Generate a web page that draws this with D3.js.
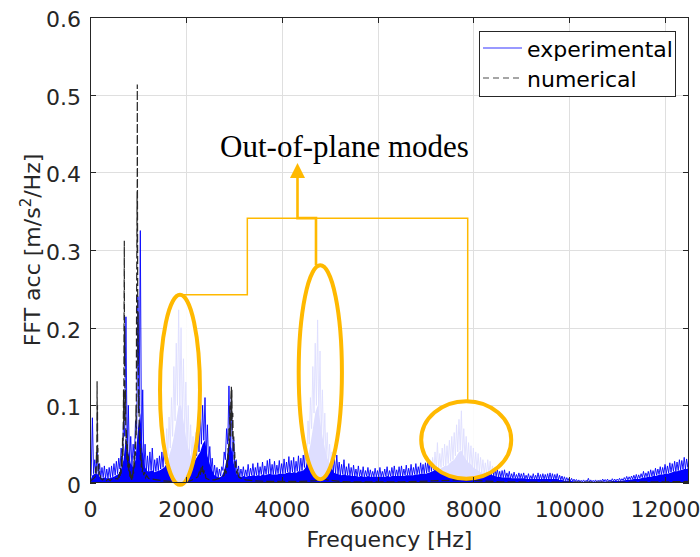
<!DOCTYPE html>
<html>
<head>
<meta charset="utf-8">
<script src="https://cdn.jsdelivr.net/npm/d3@7/dist/d3.min.js"></script>
<style>
  body { margin: 0; background: #fff; }
  svg { display: block; }
</style>
</head>
<body>
<svg id="chart" width="700" height="557"></svg>
<script>
// ---- axis ticks ----
const xTickValues = [0, 2000, 4000, 6000, 8000, 10000, 12000];
const yTickValues = [0, 0.1, 0.2, 0.3, 0.4, 0.5, 0.6];

// ---- experimental spectrum, 50 Hz bins from 0 to 12500 Hz ----
// expPeak: spike tips in each bin, expFloor: solid noise floor in each bin [m/s^2/Hz]
const expPeak = [
  0.006, 0.084, 0.03, 0.04, 0.025, 0.02, 0.022, 0.018, 0.02, 0.022,
  0.025, 0.028, 0.032, 0.045, 0.08, 0.214, 0.1, 0.06, 0.05, 0.08,
  0.24, 0.325, 0.12, 0.05, 0.035, 0.04, 0.045, 0.03, 0.032, 0.035,
  0.04, 0.05, 0.07, 0.085, 0.11, 0.15, 0.18, 0.223, 0.2, 0.16,
  0.13, 0.1, 0.075, 0.06, 0.065, 0.075, 0.088, 0.1, 0.11, 0.075,
  0.047, 0.032, 0.023, 0.02, 0.018, 0.021, 0.04, 0.07, 0.125, 0.11,
  0.055, 0.03, 0.022, 0.018, 0.021, 0.017, 0.024, 0.019, 0.025, 0.02,
  0.026, 0.021, 0.027, 0.022, 0.029, 0.031, 0.024, 0.028, 0.023, 0.029,
  0.025, 0.031, 0.027, 0.034, 0.029, 0.033, 0.028, 0.035, 0.032, 0.036,
  0.05, 0.08, 0.11, 0.15, 0.18, 0.21, 0.17, 0.12, 0.09, 0.065,
  0.05, 0.04, 0.032, 0.036, 0.027, 0.024, 0.03, 0.021, 0.025, 0.02,
  0.023, 0.018, 0.022, 0.017, 0.021, 0.016, 0.02, 0.017, 0.015, 0.019,
  0.016, 0.02, 0.015, 0.018, 0.021, 0.016, 0.02, 0.022, 0.017, 0.021,
  0.022, 0.018, 0.023, 0.019, 0.024, 0.02, 0.025, 0.021, 0.026, 0.024,
  0.026, 0.028, 0.03, 0.033, 0.04, 0.052, 0.038, 0.045, 0.05, 0.048,
  0.055, 0.06, 0.065, 0.075, 0.082, 0.093, 0.07, 0.06, 0.052, 0.048,
  0.045, 0.04, 0.038, 0.033, 0.03, 0.026, 0.03, 0.028, 0.022, 0.02,
  0.018, 0.015, 0.016, 0.017, 0.013, 0.015, 0.012, 0.014, 0.011, 0.013,
  0.012, 0.013, 0.01, 0.012, 0.0095, 0.012, 0.01, 0.013, 0.011, 0.012,
  0.011, 0.012, 0.013, 0.012, 0.011, 0.012, 0.01, 0.009, 0.008, 0.007,
  0.0065, 0.006, 0.005, 0.0045, 0.004, 0.0035, 0.004, 0.0035, 0.006, 0.004,
  0.0035, 0.004, 0.0035, 0.004, 0.005, 0.0045, 0.005, 0.004, 0.0055, 0.005,
  0.005, 0.006, 0.0055, 0.007, 0.0085, 0.008, 0.009, 0.01, 0.011, 0.0105,
  0.012, 0.015, 0.013, 0.015, 0.017, 0.016, 0.019, 0.018, 0.021, 0.02,
  0.024, 0.022, 0.026, 0.025, 0.028, 0.027, 0.03, 0.029, 0.033, 0.031, 0.035
];
const expFloor = [
  0.002, 0.01, 0.012, 0.012, 0.008, 0.006, 0.007, 0.006, 0.006, 0.007,
  0.008, 0.01, 0.012, 0.018, 0.03, 0.06, 0.04, 0.025, 0.02, 0.03,
  0.07, 0.09, 0.04, 0.02, 0.015, 0.015, 0.016, 0.014, 0.015, 0.016,
  0.018, 0.02, 0.025, 0.035, 0.045, 0.06, 0.08, 0.1, 0.1, 0.08,
  0.06, 0.045, 0.035, 0.03, 0.03, 0.035, 0.04, 0.05, 0.055, 0.035,
  0.024, 0.016, 0.01, 0.008, 0.007, 0.009, 0.016, 0.03, 0.05, 0.045,
  0.025, 0.012, 0.009, 0.008, 0.009, 0.008, 0.009, 0.009, 0.01, 0.009,
  0.01, 0.009, 0.011, 0.01, 0.011, 0.012, 0.011, 0.011, 0.011, 0.012,
  0.012, 0.012, 0.013, 0.014, 0.013, 0.014, 0.013, 0.015, 0.015, 0.016,
  0.02, 0.035, 0.05, 0.07, 0.09, 0.1, 0.08, 0.06, 0.045, 0.032,
  0.025, 0.018, 0.013, 0.012, 0.011, 0.01, 0.011, 0.01, 0.01, 0.009,
  0.009, 0.009, 0.008, 0.009, 0.008, 0.008, 0.009, 0.008, 0.008, 0.008,
  0.008, 0.008, 0.008, 0.008, 0.009, 0.008, 0.009, 0.009, 0.009, 0.009,
  0.009, 0.009, 0.01, 0.01, 0.01, 0.01, 0.011, 0.011, 0.012, 0.012,
  0.012, 0.013, 0.014, 0.015, 0.017, 0.018, 0.018, 0.02, 0.022, 0.022,
  0.025, 0.028, 0.03, 0.035, 0.04, 0.042, 0.035, 0.03, 0.026, 0.024,
  0.02, 0.018, 0.016, 0.014, 0.013, 0.012, 0.011, 0.011, 0.01, 0.009,
  0.008, 0.008, 0.007, 0.007, 0.007, 0.007, 0.006, 0.006, 0.006, 0.006,
  0.006, 0.006, 0.005, 0.005, 0.005, 0.005, 0.005, 0.005, 0.005, 0.005,
  0.005, 0.005, 0.005, 0.005, 0.005, 0.005, 0.004, 0.004, 0.003, 0.003,
  0.003, 0.0025, 0.002, 0.002, 0.002, 0.0015, 0.0015, 0.0015, 0.002, 0.0015,
  0.0015, 0.0015, 0.0015, 0.002, 0.002, 0.002, 0.002, 0.002, 0.0025, 0.0025,
  0.0025, 0.003, 0.003, 0.0035, 0.004, 0.004, 0.0045, 0.005, 0.005, 0.005,
  0.006, 0.007, 0.007, 0.008, 0.008, 0.009, 0.009, 0.01, 0.011, 0.011,
  0.012, 0.012, 0.013, 0.014, 0.015, 0.015, 0.016, 0.017, 0.018, 0.018, 0.02
];
const expBinWidth = 50;

// ---- numerical spectrum (frequency [Hz], amplitude [m/s^2/Hz]) ----
const numFreq = [
  0, 40, 80, 110, 120, 128, 135, 140, 145, 148, 152, 156, 160, 165, 170, 180,
  190, 200, 220, 260, 300, 340, 380, 420, 460, 500, 540, 580,
  600, 610, 620, 630, 640, 650, 660, 670, 680, 690, 700, 705, 710, 716,
  720, 725, 730, 740, 750, 760, 770, 780, 790, 800, 810, 820, 830, 840,
  850, 860, 870, 880, 890, 900, 910, 920, 930, 940, 950, 960, 965, 970,
  978, 983, 985, 987, 990, 995, 1000, 1005, 1010, 1020, 1030, 1040, 1050,
  1060, 1070, 1080, 1090, 1100, 1120, 1140, 1160, 1180, 1220, 1300, 1400,
  1500, 1700, 1900, 2100, 2200, 2250, 2280, 2300, 2320, 2340, 2350, 2370,
  2390, 2420, 2500, 2600, 2700, 2760, 2800, 2820, 2840, 2860, 2870, 2880,
  2890, 2900, 2910, 2920, 2930, 2940, 2950, 2955, 2960, 2970, 2980, 2990,
  3000, 3010, 3020, 3030, 3040, 3060, 3080, 3100, 3150, 3250, 3400, 3700,
  4000, 4400, 4700, 4850, 4950, 5200, 5500, 6500, 7300, 7700, 8100, 8600,
  10000, 12000, 12500
];
const numValue = [
  0.002, 0.004, 0.006, 0.008, 0.02, 0.012, 0.04, 0.025, 0.08, 0.131, 0.06, 0.1, 0.03, 0.045, 0.015, 0.025,
  0.01, 0.015, 0.006, 0.004, 0.006, 0.003, 0.005, 0.003, 0.005, 0.004, 0.006, 0.005,
  0.01, 0.006, 0.014, 0.008, 0.02, 0.012, 0.035, 0.02, 0.06, 0.035, 0.12, 0.07, 0.2, 0.312,
  0.15, 0.2, 0.08, 0.12, 0.05, 0.07, 0.03, 0.05, 0.02, 0.035, 0.015, 0.025, 0.008, 0.015,
  0.004, 0.01, 0.002, 0.012, 0.006, 0.02, 0.012, 0.035, 0.02, 0.05, 0.035, 0.1, 0.06, 0.2,
  0.3, 0.375, 0.3, 0.513, 0.38, 0.25, 0.15, 0.22, 0.09, 0.12, 0.05, 0.07, 0.03,
  0.045, 0.02, 0.03, 0.014, 0.02, 0.01, 0.014, 0.007, 0.01, 0.006, 0.005, 0.004,
  0.003, 0.002, 0.002, 0.003, 0.006, 0.008, 0.014, 0.01, 0.02, 0.014, 0.022, 0.012,
  0.016, 0.006, 0.004, 0.004, 0.006, 0.008, 0.01, 0.02, 0.012, 0.03, 0.02, 0.045,
  0.03, 0.07, 0.045, 0.1, 0.06, 0.11, 0.124, 0.08, 0.12, 0.06, 0.09, 0.04,
  0.06, 0.03, 0.04, 0.02, 0.028, 0.012, 0.018, 0.008, 0.006, 0.004, 0.003, 0.002,
  0.002, 0.002, 0.003, 0.006, 0.004, 0.002, 0.0015, 0.0015, 0.003, 0.004, 0.003, 0.0015,
  0.001, 0.0015, 0.002
];

// ---- highlighted out-of-plane modes: centre [Hz, value] and half-axes [Hz, value] ----
const modeCenterFreq = [1878, 4806, 7851];
const modeCenterValue = [0.120, 0.1426, 0.0555];
const modeHalfFreq = [417, 451, 939];
const modeHalfValue = [0.1223, 0.1377, 0.0499];
// where each leader leaves its ellipse (Hz)
const modeLeaderFreq = [1878, 4716, 7882];
const bracketValue = 0.341;      // level of the common bracket
const bracketStepFreq = 3283;    // bend of the first leader
const arrowFreq = 4330;
const arrowTipValue = 0.412;
const annotationText = "Out-of-plane modes";
const annotationFreq = 5311;
const annotationValue = 0.4195;

const seriesNames = ["experimental", "numerical"];

// ---- layout ----
const svg = d3.select("#chart");
const plot = { left: 90, right: 689, top: 17, bottom: 483 };
const x = d3.scaleLinear().domain([0, 12500]).range([plot.left, plot.right]);
const y = d3.scaleLinear().domain([0, 0.6]).range([plot.bottom, plot.top]);
const axisColor = "#262626";
const sansFont = "'DejaVu Sans', sans-serif";
const orange = "#FFB900";

svg.append("defs").append("clipPath").attr("id", "plotClip")
  .append("rect")
  .attr("x", plot.left).attr("y", plot.top)
  .attr("width", plot.right - plot.left).attr("height", plot.bottom - plot.top);

// grid
const grid = svg.append("g").attr("stroke", "#dfdfdf").attr("stroke-width", 1);
grid.selectAll("line.gx").data(xTickValues.slice(1)).join("line")
  .attr("x1", d => Math.round(x(d)) + 0.5).attr("x2", d => Math.round(x(d)) + 0.5)
  .attr("y1", plot.top).attr("y2", plot.bottom);
grid.selectAll("line.gy").data(yTickValues.slice(1)).join("line")
  .attr("y1", d => Math.round(y(d)) + 0.5).attr("y2", d => Math.round(y(d)) + 0.5)
  .attr("x1", plot.left).attr("x2", plot.right);

const data = svg.append("g").attr("clip-path", "url(#plotClip)");

// experimental: solid floor plus spikes
const expFreq = d3.range(expPeak.length).map(i => i * expBinWidth);
const expPts = [];
expFreq.forEach((f, i) => {
  expPts.push([f - expBinWidth / 2, expFloor[i]]);
  expPts.push([f, expPeak[i]]);
});
expPts.push([expFreq[expFreq.length - 1] + expBinWidth / 2, expFloor[expFloor.length - 1]]);

data.append("path")
  .datum(expFreq.map((f, i) => [f, expFloor[i]]))
  .attr("fill", "#0000ff")
  .attr("d", d3.area().x(d => x(d[0])).y0(y(0)).y1(d => y(d[1])));

data.append("path")
  .datum(expPts)
  .attr("fill", "none")
  .attr("stroke", "#0000ff")
  .attr("stroke-width", 0.9)
  .attr("d", d3.line().x(d => x(d[0])).y(d => y(d[1])));

// numerical
data.append("path")
  .datum(numFreq.map((f, i) => [f, numValue[i]]))
  .attr("fill", "none")
  .attr("stroke", "#262626")
  .attr("stroke-width", 1.2)
  .attr("stroke-dasharray", "8,3")
  .attr("d", d3.line().x(d => x(d[0])).y(d => y(d[1])));

// ellipses around the out-of-plane modes
const ann = svg.append("g");
modeCenterFreq.forEach((f, i) => {
  ann.append("ellipse")
    .attr("cx", x(f))
    .attr("cy", y(modeCenterValue[i]))
    .attr("rx", x(modeHalfFreq[i]) - x(0))
    .attr("ry", y(0) - y(modeHalfValue[i]))
    .attr("fill", "#ffffff")
    .attr("fill-opacity", 0.87)
    .attr("stroke", orange)
    .attr("stroke-width", 4);
});

// leader lines to the common bracket
const top0 = modeCenterValue[0] + modeHalfValue[0];
const top1 = modeCenterValue[1] + modeHalfValue[1];
const top2 = modeCenterValue[2] + modeHalfValue[2];
const thin = d3.path();
thin.moveTo(x(modeLeaderFreq[0]), y(top0));
thin.lineTo(x(bracketStepFreq), y(top0));
thin.lineTo(x(bracketStepFreq), y(bracketValue));
thin.lineTo(x(modeLeaderFreq[2]), y(bracketValue));
thin.lineTo(x(modeLeaderFreq[2]), y(top2));
ann.append("path").attr("d", thin.toString())
  .attr("fill", "none").attr("stroke", orange).attr("stroke-width", 1.5);

const arrowBase = y(arrowTipValue) + 15;
const thick = d3.path();
thick.moveTo(x(modeLeaderFreq[1]), y(top1));
thick.lineTo(x(modeLeaderFreq[1]), y(bracketValue));
thick.lineTo(x(arrowFreq), y(bracketValue));
thick.lineTo(x(arrowFreq), arrowBase);
ann.append("path").attr("d", thick.toString())
  .attr("fill", "none").attr("stroke", orange).attr("stroke-width", 2.6);

const head = d3.path();
head.moveTo(x(arrowFreq), y(arrowTipValue));
head.lineTo(x(arrowFreq) + 7.5, arrowBase);
head.lineTo(x(arrowFreq) - 7.5, arrowBase);
head.closePath();
ann.append("path").attr("d", head.toString()).attr("fill", orange);

ann.append("text")
  .attr("x", x(annotationFreq)).attr("y", y(annotationValue))
  .attr("text-anchor", "middle")
  .attr("font-family", "'Liberation Serif', 'Times New Roman', serif")
  .attr("font-size", 31)
  .attr("fill", "#000")
  .text(annotationText);

// axes box and inward ticks
const ax = svg.append("g").attr("stroke", axisColor).attr("stroke-width", 1).attr("fill", "none");
ax.append("rect")
  .attr("x", plot.left + 0.5).attr("y", plot.top + 0.5)
  .attr("width", plot.right - plot.left - 1).attr("height", plot.bottom - plot.top - 1);
const tickLen = 6;
xTickValues.forEach(v => {
  const px = Math.round(x(v)) + 0.5;
  ax.append("line").attr("x1", px).attr("x2", px).attr("y1", plot.bottom).attr("y2", plot.bottom - tickLen);
  ax.append("line").attr("x1", px).attr("x2", px).attr("y1", plot.top).attr("y2", plot.top + tickLen);
});
yTickValues.forEach(v => {
  const py = Math.round(y(v)) + 0.5;
  ax.append("line").attr("y1", py).attr("y2", py).attr("x1", plot.left).attr("x2", plot.left + tickLen);
  ax.append("line").attr("y1", py).attr("y2", py).attr("x1", plot.right).attr("x2", plot.right - tickLen);
});

// tick labels via d3 axes (domain and tick lines hidden, the box draws them)
const xAxis = svg.append("g")
  .attr("transform", `translate(0,${plot.bottom})`)
  .call(d3.axisBottom(x).tickValues(xTickValues).tickFormat(d3.format("d")).tickSize(0).tickPadding(0));
const yAxis = svg.append("g")
  .attr("transform", `translate(${plot.left},0)`)
  .call(d3.axisLeft(y).tickValues(yTickValues).tickFormat(d => d === 0 ? "0" : d3.format(".1f")(d)).tickSize(0).tickPadding(0));
[xAxis, yAxis].forEach(g => {
  g.select(".domain").remove();
  g.selectAll("text").attr("font-family", sansFont).attr("font-size", 22).attr("fill", axisColor);
});
xAxis.selectAll("text").attr("dy", null).attr("y", 34);
yAxis.selectAll("text").attr("dy", null).attr("x", -9).attr("y", 9.4);

// axis titles
svg.append("text")
  .attr("x", (plot.left + plot.right) / 2).attr("y", 547)
  .attr("text-anchor", "middle")
  .attr("font-family", sansFont).attr("font-size", 22).attr("fill", axisColor)
  .text("Frequency [Hz]");

const yt = svg.append("text")
  .attr("transform", `translate(40,${(plot.top + plot.bottom) / 2}) rotate(-90)`)
  .attr("text-anchor", "middle")
  .attr("font-family", sansFont).attr("font-size", 22).attr("fill", axisColor);
yt.append("tspan").text("FFT acc [m/s");
yt.append("tspan").attr("font-size", 15).attr("dy", -9).text("2");
yt.append("tspan").attr("dy", 9).text("/Hz]");

// legend
const lg = svg.append("g");
lg.append("rect").attr("x", 479.5).attr("y", 31.5).attr("width", 196).attr("height", 65)
  .attr("fill", "#fff").attr("stroke", axisColor).attr("stroke-width", 1);
const rowY = [48, 78];
lg.append("line").attr("x1", 483).attr("x2", 522).attr("y1", rowY[0]).attr("y2", rowY[0])
  .attr("stroke", "#0000ff").attr("stroke-width", 1).attr("stroke-opacity", 0.8);
lg.append("line").attr("x1", 483).attr("x2", 522).attr("y1", rowY[1]).attr("y2", rowY[1])
  .attr("stroke", "#222").attr("stroke-width", 1).attr("stroke-dasharray", "6,4").attr("stroke-opacity", 0.8);
seriesNames.forEach((name, i) => {
  lg.append("text").attr("x", 527).attr("y", rowY[i] + 8.5)
    .attr("font-family", sansFont).attr("font-size", 22).attr("fill", "#000")
    .text(name);
});
</script>
</body>
</html>
